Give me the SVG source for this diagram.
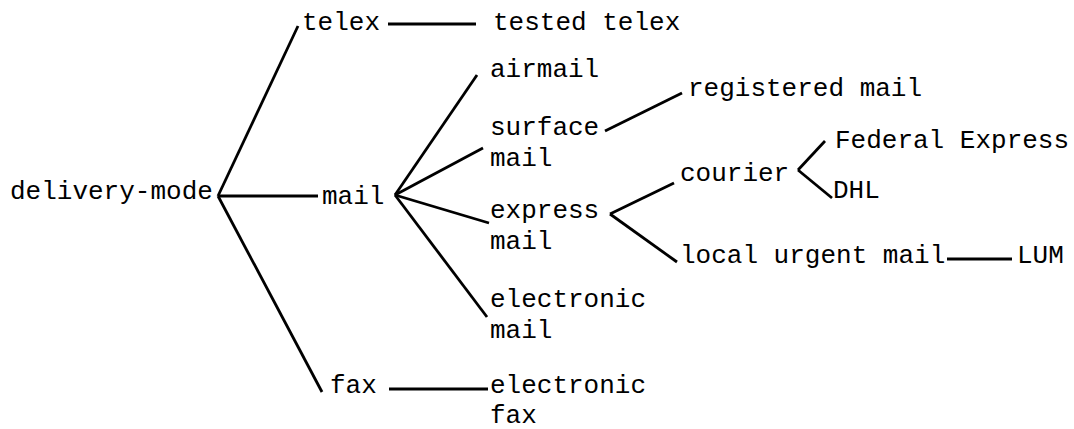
<svg xmlns="http://www.w3.org/2000/svg" width="1074" height="429" viewBox="0 0 1074 429">
<style>
text{font-family:"Liberation Mono","Courier New",monospace;font-size:26px;fill:#000}
.c line{stroke:#000;stroke-width:2.8;stroke-linecap:butt}
</style>
<rect width="1074" height="429" fill="#fff"/>
<g class="c" id="connectors">
<line x1="218" y1="196" x2="298" y2="26"/>
<line x1="218" y1="196" x2="318" y2="196"/>
<line x1="218" y1="196" x2="322" y2="392"/>
<line x1="388" y1="24" x2="476" y2="24"/>
<line x1="395" y1="195" x2="477" y2="75"/>
<line x1="395" y1="195" x2="483" y2="148"/>
<line x1="395" y1="195" x2="489" y2="223"/>
<line x1="395" y1="195" x2="487" y2="317"/>
<line x1="389" y1="389" x2="488" y2="389"/>
<line x1="605" y1="131" x2="682" y2="93"/>
<line x1="610" y1="214" x2="674" y2="183"/>
<line x1="610" y1="214" x2="677" y2="262"/>
<line x1="798" y1="170" x2="825" y2="141"/>
<line x1="798" y1="170" x2="832" y2="198"/>
<line x1="947" y1="259" x2="1012" y2="259"/>
</g>
<g id="delivery-mode"><text x="10" y="199">delivery-mode</text></g>
<g id="telex"><text x="302" y="30">telex</text></g>
<g id="tested-telex"><text x="493" y="30">tested telex</text></g>
<g id="mail"><text x="322" y="204">mail</text></g>
<g id="fax"><text x="330" y="393">fax</text></g>
<g id="airmail"><text x="490" y="77">airmail</text></g>
<g id="surface-mail"><text x="490" y="135">surface</text><text x="490" y="166">mail</text></g>
<g id="express-mail"><text x="490" y="218">express</text><text x="490" y="249">mail</text></g>
<g id="electronic-mail"><text x="490" y="307">electronic</text><text x="490" y="338">mail</text></g>
<g id="electronic-fax"><text x="490" y="393">electronic</text><text x="490" y="423">fax</text></g>
<g id="registered-mail"><text x="688" y="96">registered mail</text></g>
<g id="courier"><text x="680" y="181">courier</text></g>
<g id="federal-express"><text x="835" y="148">Federal Express</text></g>
<g id="dhl"><text x="833" y="198">DHL</text></g>
<g id="local-urgent-mail"><text x="680" y="263">local urgent mail</text></g>
<g id="lum"><text x="1017" y="263">LUM</text></g>
</svg>
